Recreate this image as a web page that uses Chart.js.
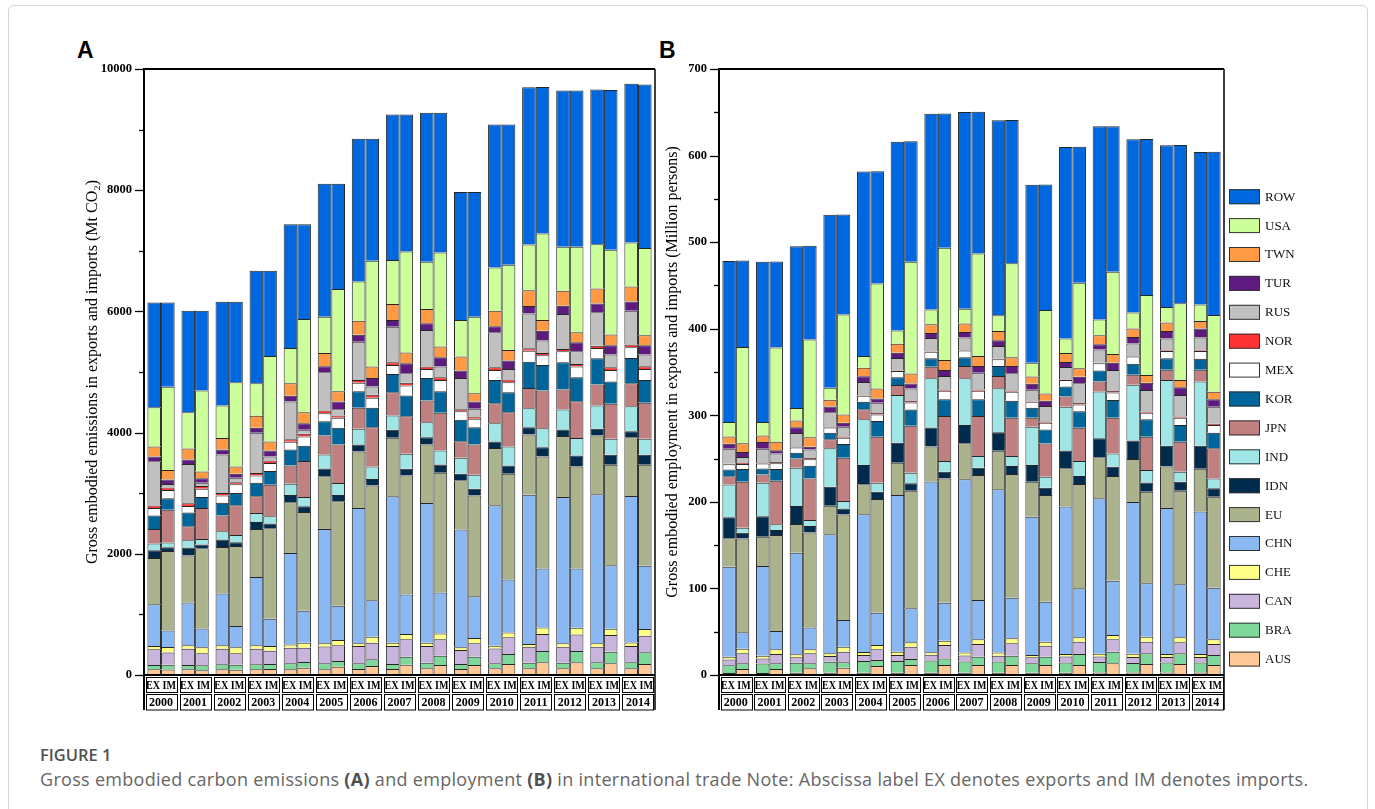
<!DOCTYPE html>
<html>
<head>
<meta charset="utf-8">
<script src="https://cdn.jsdelivr.net/npm/chart.js@4.4.1/dist/chart.umd.min.js"></script>
<style>
  html, body { margin: 0; padding: 0; background: #fff; }
  body { width: 1375px; height: 809px; position: relative; overflow: hidden; }
  #card { position: absolute; left: 8px; top: 5px; width: 1358px; height: 840px; border: 1px solid #d6d6d6; border-radius: 6px; }
  .panel { position: absolute; font: bold 23px "Liberation Sans", Arial, sans-serif; line-height: 23px; color: #000; }
  #capHead { position: absolute; left: 40px; top: 743px; font: 600 16.5px "Open Sans", sans-serif; color: #505050; }
  #capText { position: absolute; left: 40px; top: 767px; font: 18px "Open Sans", sans-serif; letter-spacing: 0.3px; color: #666; white-space: nowrap; }
  #capText b { color: #505050; }
  canvas { position: absolute; }
</style>
</head>
<body>
<div id="card"></div>
<div class="panel" style="left:77px;top:39px">A</div>
<div class="panel" style="left:659px;top:39px">B</div>
<canvas id="chartA" width="620" height="680" style="left:40px;top:40px"></canvas>
<canvas id="chartB" width="700" height="680" style="left:660px;top:40px"></canvas>
<div id="capHead">FIGURE 1</div>
<div id="capText">Gross embodied carbon emissions <b>(A)</b> and employment <b>(B)</b> in international trade Note: Abscissa label EX denotes exports and IM denotes imports.</div>
<script>
// Years on the category axis
const years = ['2000','2001','2002','2003','2004','2005','2006','2007','2008','2009','2010','2011','2012','2013','2014'];

// Economies, bottom of the stack first
const economies = ['AUS','BRA','CAN','CHE','CHN','EU','IDN','IND','JPN','KOR','MEX','NOR','RUS','TUR','TWN','USA','ROW'];
const economyColors = ['#FFC896','#7ED89A','#C8B4DC','#FFFF88','#8AB8F2','#ABB38D','#002B4C','#A0E6E6','#C08080','#00659A','#FFFFFF','#FF3333','#C0C0C0','#5F1A80','#FF9944','#CCFF99','#0068DE'];

// Axis ticks
const co2Ticks = { max: 10000, major: 2000, minor: 1000 };
const jobsTicks = { max: 700, major: 100, minor: 50 };

// Embodied CO2 in exports (Mt CO2)
const co2ExAUS = [95,95,95,95,95,95,99,99,110,99,110,110,110,110,110];
const co2ExBRA = [70,70,81,81,97,97,93,82,93,82,82,93,93,99,99];
const co2ExCAN = [258,269,258,258,258,280,286,297,275,231,247,263,263,257,269];
const co2ExCHE = [55,55,55,55,55,50,44,54,54,44,44,45,56,56,60];
const co2ExCHN = [690,708,856,1130,1510,1888,2234,2416,2306,1943,2317,2465,2415,2459,2415];
const co2ExEU  = [763,774,768,791,834,868,933,967,967,813,944,993,1005,972,972];
const co2ExIDN = [126,132,121,115,121,131,116,132,120,109,110,121,110,110,99];
const co2ExIND = [111,120,138,148,187,231,258,235,247,264,302,313,329,384,412];
const co2ExJPN = [241,231,258,275,302,313,346,384,357,274,329,335,329,346,378];
const co2ExKOR = [225,226,214,226,263,236,274,303,374,352,385,430,451,433,418];
const co2ExMEX = [121,109,116,120,127,131,138,148,148,142,165,181,181,171,176];
const co2ExNOR = [44,44,43,38,43,45,49,43,38,33,43,44,39,38,44];
const co2ExRUS = [730,647,637,665,621,630,631,588,605,517,576,571,576,549,560];
const co2ExTUR = [77,78,82,83,94,99,115,110,109,121,99,126,137,148,153];
const co2ExTWN = [165,181,187,197,207,221,231,264,237,230,259,258,247,247,247];
const co2ExUSA = [647,598,538,537,583,598,647,725,779,604,713,758,725,731,725];
const co2ExROW = [1730,1675,1713,1856,2042,2195,2356,2403,2459,2114,2361,2591,2580,2553,2619];

// Embodied CO2 in imports (Mt CO2)
const co2ImAUS = [90,80,85,99,121,137,148,170,165,165,181,209,209,192,181];
const co2ImBRA = [80,80,85,82,93,94,110,132,153,137,165,186,186,192,193];
const co2ImCAN = [200,197,187,220,236,258,274,286,270,220,275,280,275,275,274];
const co2ImCHE = [90,99,99,77,83,88,99,87,98,87,82,110,109,104,110];
const co2ImCHN = [275,313,351,450,526,565,604,654,676,692,873,972,978,1049,1043];
const co2ImEU  = [1313,1323,1323,1493,1631,1724,1894,1965,1976,1659,1746,1850,1685,1658,1669];
const co2ImIDN = [60,60,60,77,93,104,104,110,137,115,137,153,181,165,165];
const co2ImIND = [77,93,121,121,154,198,209,247,231,230,313,313,286,263,263];
const co2ImJPN = [540,511,489,521,593,637,648,620,621,500,565,621,609,577,594];
const co2ImKOR = [190,181,203,225,253,275,319,341,356,285,329,423,395,367,378];
const co2ImMEX = [138,138,143,132,153,164,165,164,187,138,165,159,176,193,181];
const co2ImNOR = [43,43,33,44,45,38,49,45,43,38,44,39,45,45,45];
const co2ImRUS = [56,56,77,66,66,104,137,158,176,127,176,203,208,209,192];
const co2ImTUR = [76,71,66,99,109,127,143,164,154,120,137,164,148,154,154];
const co2ImTWN = [155,115,120,148,181,170,186,177,176,137,176,176,164,176,164];
const co2ImUSA = [1372,1334,1389,1411,1538,1686,1746,1668,1553,1263,1405,1427,1412,1400,1439];
const co2ImROW = [1390,1318,1329,1405,1564,1739,2015,2262,2306,2059,2317,2416,2580,2635,2701];

// Embodied employment in exports (million persons)
const jobsExAUS = [2.4,2.4,2.5,2.5,2.6,2.6,2.7,2.7,2.7,2.6,2.7,2.8,2.8,2.8,2.8];
const jobsExBRA = [9,11,11.7,12.9,13.7,13.7,14,12.9,12.9,11,11.7,12.1,11,11.7,11.7];
const jobsExCAN = [6.6,5.7,6.2,6.5,6.9,6.9,6.6,6.9,6.5,6.9,6.9,6.5,6.9,6.2,6.2];
const jobsExCHE = [3.1,3.1,3.5,3.1,3.5,3.8,3.1,3.5,3.9,2.7,3.1,3.1,3.8,3.5,3.5];
const jobsExCHN = [104,103.6,117.3,137.5,158.9,181,197,200.2,188.6,159.7,170.1,179.8,175.2,168.6,164.7];
const jobsExEU  = [32.8,33.8,33.2,33,34.7,37.3,40.4,41.5,44.3,40.4,44.4,47.3,49.7,48,49.3];
const jobsExIDN = [24.2,23.9,20.8,21.9,22.3,23.1,22,21.2,21.5,19.3,20.3,22,21.5,23.9,26.5];
const jobsExIND = [38,38.5,44.2,44.4,52.8,55,57,53.9,50.8,44.2,50.8,53.8,64.3,76.2,74.3];
const jobsExJPN = [9.6,9.6,10.8,10.4,11.5,11.6,13.4,14.2,14.3,10.4,11.6,11.6,11.5,11.6,13.5];
const jobsExKOR = [7.7,7,6.5,7.6,8.8,8.9,9.7,10,11.5,11.6,11.6,12.7,12.7,13.5,12.7];
const jobsExMEX = [6.1,5.8,6.2,6.2,6.9,7.2,7.6,7.7,7.7,6.9,7.6,8.5,8.5,8.4,9.2];
const jobsExNOR = [0.5,0.5,0.5,0.5,0.6,0.6,0.6,0.6,0.6,0.5,0.6,0.6,0.6,0.6,0.6];
const jobsExRUS = [17.4,16.5,16,17,15.2,14.6,15.2,14.5,14.8,13.3,14.4,15.2,14.4,13.7,14.9];
const jobsExTUR = [5.7,7.6,6.9,6.6,6.6,5.8,5.8,6.4,6.5,6.9,5.8,6.1,7.6,8.8,10.3];
const jobsExTWN = [8.4,7.7,7.8,7.8,10,10.4,10,9.7,10.8,8.5,10.4,10.4,9.7,9.7,8.8];
const jobsExUSA = [16.6,15.4,14.2,13.8,13.4,15.4,17,17.3,18.1,15.8,16.6,18.1,18.5,18,18.9];
const jobsExROW = [186,185.2,187,199.8,213.3,218.2,226.3,227.1,225.2,205.5,221.2,223.2,200.2,186.7,176.3];

// Embodied employment in imports (million persons)
const jobsImAUS = [6.9,6.9,7.7,8.5,10.4,11.5,11.5,11.5,11.5,11.5,11.5,13.5,12.7,12.7,11.5];
const jobsImBRA = [6.6,6.6,5.8,6.1,6.9,7,7.7,9.6,10.8,9.6,12.7,13.4,12.3,12.3,11.6];
const jobsImCAN = [11.5,10.7,11.5,12.3,12.3,14.2,15.4,14.7,14.3,12.7,14.3,14.3,13.5,12.7,12.7];
const jobsImCHE = [5.4,5.4,4.6,5.8,5,5,5,5.4,5.8,4.7,5,5,5.7,5.8,5.4];
const jobsImCHN = [18.9,21.2,25.4,30.8,37.4,39.3,43.9,45.4,46.9,46.1,56.6,62.7,61.7,61.2,59.6];
const jobsImEU  = [108.5,110.9,109.7,122,131.2,135.8,143.6,144.3,142.8,123.3,120.5,120.9,105.8,108.1,105.1];
const jobsImIDN = [6.5,5.7,7.3,6.9,8.5,8.6,7.7,8.5,9.2,8.4,9.2,10.7,10.8,10.4,9.7];
const jobsImIND = [5.8,6.6,7,8.5,10.4,12.2,12.3,13.5,11.6,12.7,17.3,15.5,14.2,11.6,11.5];
const jobsImJPN = [53.1,50.4,48.1,50,53.1,54.3,52,46.2,44.2,38.5,38.5,41.1,38.5,34.6,34.7];
const jobsImKOR = [14.7,13.5,14.6,15.8,18.1,18.9,19.3,19.3,19.6,16.2,19.2,20.5,20.1,19.3,18];
const jobsImMEX = [5.7,6.6,7.4,7.3,7.7,8.1,9.9,9.9,10.4,7.6,7.8,8.8,7.6,8.4,8.9];
const jobsImNOR = [1.4,1.4,1.5,1.5,1.5,1.5,1.6,1.6,1.6,1.5,1.6,1.6,1.6,1.6,1.6];
const jobsImRUS = [6.9,10,10,11.2,11.9,14.6,15.5,19.3,19.8,17.8,22.7,24.3,24.7,24.7,19.6];
const jobsImTUR = [5.8,3.8,3,4.6,5.1,5.8,6.9,7.7,8.4,6.1,7.7,8.4,8.4,8.9,8.6];
const jobsImTWN = [10,9.6,10.9,9.7,11.5,11.6,11.5,11.6,10,8.6,9.6,10.1,8.9,8.4,8.7];
const jobsImUSA = [111.2,109,113.1,115.5,121.3,128.9,129.7,118.5,108.6,96.2,98.9,95,92.4,88.6,88.6];
const jobsImROW = [100,99.3,108.1,115.5,129.7,139.3,155.2,163.6,165.5,145.1,157,168.2,180.2,182.8,188.6];

const co2Ex = [co2ExAUS,co2ExBRA,co2ExCAN,co2ExCHE,co2ExCHN,co2ExEU,co2ExIDN,co2ExIND,co2ExJPN,co2ExKOR,co2ExMEX,co2ExNOR,co2ExRUS,co2ExTUR,co2ExTWN,co2ExUSA,co2ExROW];
const co2Im = [co2ImAUS,co2ImBRA,co2ImCAN,co2ImCHE,co2ImCHN,co2ImEU,co2ImIDN,co2ImIND,co2ImJPN,co2ImKOR,co2ImMEX,co2ImNOR,co2ImRUS,co2ImTUR,co2ImTWN,co2ImUSA,co2ImROW];
const jobsEx = [jobsExAUS,jobsExBRA,jobsExCAN,jobsExCHE,jobsExCHN,jobsExEU,jobsExIDN,jobsExIND,jobsExJPN,jobsExKOR,jobsExMEX,jobsExNOR,jobsExRUS,jobsExTUR,jobsExTWN,jobsExUSA,jobsExROW];
const jobsIm = [jobsImAUS,jobsImBRA,jobsImCAN,jobsImCHE,jobsImCHN,jobsImEU,jobsImIDN,jobsImIND,jobsImJPN,jobsImKOR,jobsImMEX,jobsImNOR,jobsImRUS,jobsImTUR,jobsImTWN,jobsImUSA,jobsImROW];

const SERIF = '"Liberation Serif", "Times New Roman", serif';

function buildDatasets(exList, imList) {
  const sets = [];
  [['EX', exList], ['IM', imList]].forEach(([stack, list]) => {
    economies.forEach((name, i) => {
      sets.push({
        label: name,
        stack: stack,
        data: list[i],
        backgroundColor: economyColors[i],
        borderColor: '#262626',
        borderWidth: 1,
        categoryPercentage: 0.8,
        barPercentage: 1.0
      });
    });
  });
  return sets;
}

// Frame, tick marks, the EX/IM + year table under the bars, axis title, legend
const panelDecor = {
  id: 'panelDecor',
  afterDraw(chart, args, o) {
    const { ctx, chartArea: a } = chart;
    const xs = chart.scales.x, ys = chart.scales.y;
    const tableBottom = a.bottom + 35;
    ctx.save();
    ctx.strokeStyle = '#000';
    ctx.fillStyle = '#000';

    ctx.lineWidth = 1.3;
    for (let k = 0; k * o.ticks.minor <= o.ticks.max; k++) {
      const v = k * o.ticks.minor;
      const py = Math.round(ys.getPixelForValue(v)) + 0.5;
      const len = (v % o.ticks.major === 0) ? 9 : 5;
      ctx.beginPath(); ctx.moveTo(a.left - len, py); ctx.lineTo(a.left, py); ctx.stroke();
    }

    ctx.lineWidth = 2;
    ctx.beginPath();
    ctx.moveTo(a.left, tableBottom); ctx.lineTo(a.left, a.top); ctx.lineTo(a.right, a.top);
    ctx.stroke();
    ctx.beginPath(); ctx.moveTo(a.left, a.bottom); ctx.lineTo(a.right, a.bottom); ctx.stroke();
    ctx.lineWidth = 1.5;
    ctx.beginPath(); ctx.moveTo(a.right, a.top); ctx.lineTo(a.right, tableBottom); ctx.stroke();

    const n = chart.data.labels.length;
    const gw = (a.right - a.left) / n;
    ctx.lineWidth = 1;
    ctx.textAlign = 'center';
    ctx.textBaseline = 'middle';
    for (let i = 0; i < n; i++) {
      const c = xs.getPixelForValue(i);
      const l = Math.round(c - gw / 2 + 1.5) + 0.5;
      const w = Math.round(gw - 3);
      ctx.strokeRect(l, a.bottom + 2.5, w, 15);
      ctx.strokeRect(l, a.bottom + 19.5, w, 15.5);
      ctx.font = 'bold 12px ' + SERIF;
      ctx.fillText('EX IM', c, a.bottom + 10.5, gw - 4);
      ctx.font = 'bold 12px ' + SERIF;
      ctx.fillText(chart.data.labels[i], c, a.bottom + 27.5);
    }

    ctx.save();
    ctx.translate(o.titleX, (a.top + a.bottom) / 2);
    ctx.rotate(-Math.PI / 2);
    ctx.font = '16px ' + SERIF;
    ctx.fillText(o.title, 0, 0);
    ctx.restore();

    if (o.legend) {
      const L = o.legend;
      const items = chart.data.datasets.filter(d => d.stack === 'EX').slice().reverse();
      ctx.textAlign = 'left';
      ctx.font = '13px ' + SERIF;
      items.forEach((d, k) => {
        const cy = L.top + k * L.step;
        ctx.fillStyle = d.backgroundColor;
        ctx.fillRect(L.x, cy - 7.5, 31, 15);
        ctx.strokeStyle = '#333';
        ctx.lineWidth = 1;
        ctx.strokeRect(L.x + 0.5, cy - 7, 30, 14);
        ctx.fillStyle = '#111';
        ctx.fillText(d.label, L.x + 36, cy + 0.5);
      });
    }
    ctx.restore();
  }
};

function makeChart(id, exList, imList, ticks, axisWidth, padRight, title, titleX, legend) {
  return new Chart(document.getElementById(id), {
    type: 'bar',
    data: { labels: years, datasets: buildDatasets(exList, imList) },
    plugins: [panelDecor],
    options: {
      responsive: false,
      animation: false,
      layout: { padding: { top: 29, right: padRight, bottom: 45, left: 0 } },
      plugins: {
        legend: { display: false },
        tooltip: { enabled: false },
        panelDecor: { ticks: ticks, title: title, titleX: titleX, legend: legend }
      },
      scales: {
        x: { display: false, stacked: true },
        y: {
          stacked: true,
          min: 0,
          max: ticks.max,
          afterFit(scale) { scale.width = axisWidth; },
          grid: { display: false, drawTicks: false },
          border: { display: false },
          ticks: {
            stepSize: ticks.minor,
            autoSkip: false,
            padding: 12,
            color: '#000',
            font: { family: SERIF, weight: 'bold', size: 12.5 },
            callback: v => (v % ticks.major === 0 ? String(v) : '')
          }
        }
      }
    }
  });
}

makeChart('chartA', co2Ex, co2Im, co2Ticks, 104, 5,
  'Gross embodied emissions in exports and imports (Mt CO\u2082)', 53, null);
makeChart('chartB', jobsEx, jobsIm, jobsTicks, 59, 136,
  'Gross embodied employment in exports and imports (Million persons)', 13,
  { x: 569, top: 156.7, step: 28.9 });
</script>
</body>
</html>
